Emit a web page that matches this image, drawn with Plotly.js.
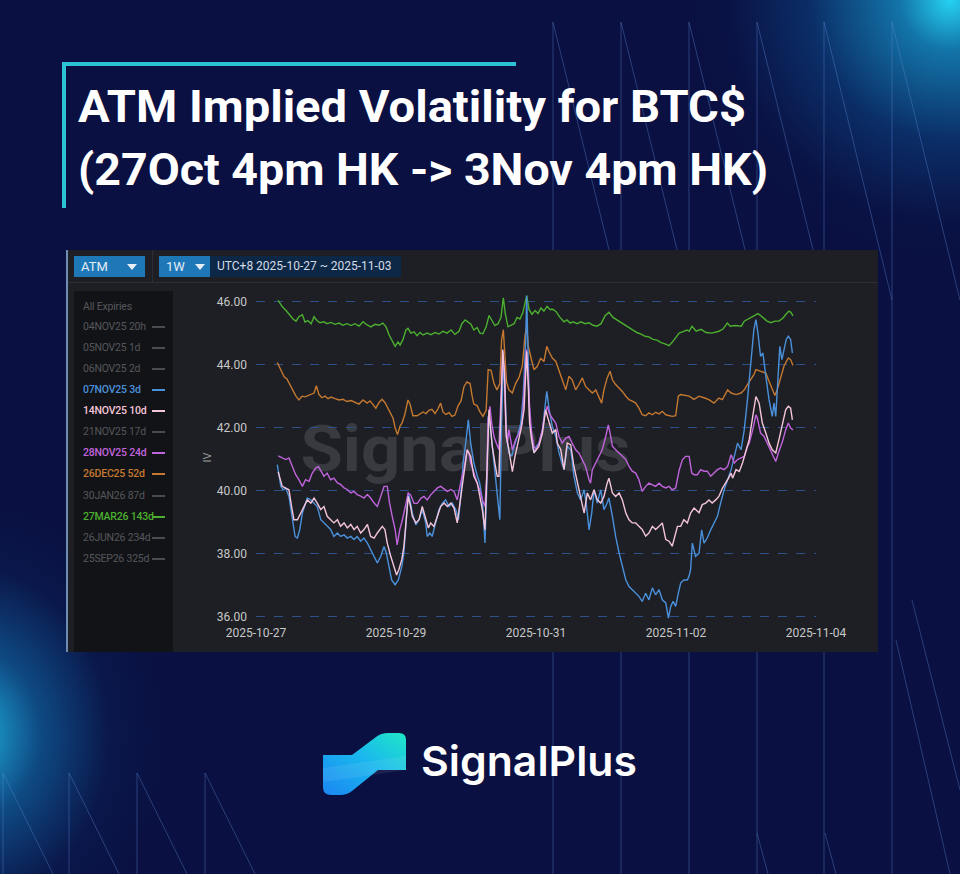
<!DOCTYPE html>
<html>
<head>
<meta charset="utf-8">
<script src="https://cdn.plot.ly/plotly-3.0.1.min.js"></script>
<style>
html,body{margin:0;padding:0;background:#0a1041;}
#page{position:relative;width:960px;height:874px;overflow:hidden;
  background:
   radial-gradient(circle at 950px 0px, rgba(38,210,242,1) 0px, rgba(22,155,208,0.72) 50px, rgba(12,95,165,0.38) 140px, rgba(10,40,100,0.12) 220px, rgba(10,16,65,0) 270px),
   radial-gradient(ellipse 200px 240px at -30px 735px, rgba(32,188,232,0.95) 0%, rgba(18,122,186,0.55) 35%, rgba(10,52,112,0.2) 70%, rgba(10,16,65,0) 100%),
   #0a1041;
  font-family:Roboto,"DejaVu Sans",sans-serif;}
#deco{position:absolute;left:0;top:0;}
.abs{position:absolute;}
.tline{position:absolute;left:78px;color:#ffffff;font-family:Roboto,"DejaVu Sans",sans-serif;font-weight:700;font-size:45px;line-height:44px;white-space:nowrap;transform-origin:0 0;}
#panel{position:absolute;left:66px;top:250px;width:812px;height:402px;background:#1d1f24;box-sizing:border-box;border-left:2px solid #6e8db3;}
.box{position:absolute;top:6px;height:21px;line-height:21px;font-size:12px;color:#e4ecf4;padding-left:7px;box-sizing:border-box;white-space:nowrap;}
.tri{position:absolute;top:8px;width:0;height:0;border-left:5px solid transparent;border-right:5px solid transparent;border-top:6px solid #e8eef5;}
#legend{position:absolute;left:6px;top:41px;width:99px;height:361px;background:#121316;}
.li{position:absolute;left:9px;font-size:10.5px;line-height:14px;white-space:nowrap;letter-spacing:-0.2px;}
.lm{position:absolute;left:78px;width:13px;height:2px;}
#wm{position:absolute;left:244px;top:168px;font-size:64px;line-height:64px;font-weight:700;color:#383a40;white-space:nowrap;font-family:Roboto,"DejaVu Sans",sans-serif;}
#chart{position:absolute;left:0;top:0;width:960px;height:874px;}
#brand{position:absolute;left:421px;top:741px;font-family:Inter,Roboto,sans-serif;font-weight:600;font-size:41px;line-height:41px;color:#ffffff;white-space:nowrap;transform-origin:0 0;}
</style>
</head>
<body>
<div id="page">
<svg id="deco" width="960" height="874">
 <g stroke="rgba(95,140,215,0.38)" stroke-width="1" fill="none">
  <line x1="553" y1="22" x2="553" y2="874"/><line x1="553" y1="22" x2="612" y2="262"/>
  <line x1="621" y1="22" x2="621" y2="874"/><line x1="621" y1="22" x2="680" y2="262"/>
  <line x1="689" y1="22" x2="689" y2="874"/><line x1="689" y1="22" x2="748" y2="262"/>
  <line x1="757" y1="22" x2="757" y2="874"/><line x1="757" y1="22" x2="816" y2="262"/>
  <line x1="824" y1="22" x2="824" y2="874"/><line x1="824" y1="22" x2="892" y2="300"/>
  <line x1="892" y1="22" x2="892" y2="874"/><line x1="892" y1="22" x2="960" y2="300"/>
  <line x1="896" y1="640" x2="950" y2="874"/><line x1="912" y1="600" x2="960" y2="790"/>
  <line x1="757" y1="833" x2="768" y2="874"/><line x1="825" y1="833" x2="836" y2="874"/>
  <line x1="3" y1="773" x2="3" y2="874"/><line x1="3" y1="773" x2="53" y2="874"/>
  <line x1="69" y1="773" x2="69" y2="874"/><line x1="69" y1="773" x2="119" y2="874"/>
  <line x1="137" y1="773" x2="137" y2="874"/><line x1="137" y1="773" x2="187" y2="874"/>
  <line x1="205" y1="773" x2="205" y2="874"/><line x1="205" y1="773" x2="255" y2="874"/>
 </g>
</svg>
<div class="abs" style="left:62px;top:62px;width:454px;height:4px;background:#2cc4d4;"></div>
<div class="abs" style="left:62px;top:62px;width:4px;height:146px;background:#2cc4d4;"></div>
<div id="t1" class="tline" style="top:85px;">ATM Implied Volatility for BTC$</div>
<div id="t2" class="tline" style="top:148px;">(27Oct 4pm HK -&gt; 3Nov 4pm HK)</div>

<div id="panel">
 <div class="abs" style="left:0;top:32px;width:810px;height:1px;background:#2b2e35;"></div>
 <div class="abs" style="left:84px;top:0;width:1px;height:32px;background:#2b2e35;"></div>
 <div class="box" style="left:6px;width:71px;background:#1e78b8;font-size:13px;">ATM</div>
 <div class="tri" style="left:59px;top:14px;"></div>
 <div class="box" style="left:91px;width:51px;background:#1e78b8;font-size:13px;">1W</div>
 <div class="tri" style="left:127px;top:14px;"></div>
 <div class="box" style="left:142px;width:191px;background:#0d2747;color:#d5dce6;">UTC+8 2025-10-27 ~ 2025-11-03</div>
 <div id="legend"></div>
 <div id="wm">SignalPlus</div>
</div>

<div id="chart"></div>

<svg class="abs" style="left:0;top:0;" width="960" height="874">
 <defs>
  <linearGradient id="lg" x1="0" y1="1" x2="1" y2="0">
   <stop offset="0" stop-color="#1a86f2"/>
   <stop offset="0.55" stop-color="#1ab8ee"/>
   <stop offset="1" stop-color="#1fe6c6"/>
  </linearGradient>
 </defs>
 <path d="M323,755 L352,755 L376,737 Q381,733 388,733 L399,733 Q406,733 406,740 L406,770 L378,770 L352,791 Q347,795 340,795 L331,795 Q323,795 323,787 Z" fill="url(#lg)"/>
 <path d="M323,768 L406,756 L406,770 L323,782 Z" fill="rgba(255,255,255,0.08)"/>
</svg>
<div id="brand">SignalPlus</div>
</div>

<script>
// ---- data (hours from 2025-10-27 00:00, UTC+8; IV values) ----
const EXPIRY_LABELS = ["All Expiries","04NOV25 20h","05NOV25 1d","06NOV25 2d","07NOV25 3d","14NOV25 10d","21NOV25 17d","28NOV25 24d","26DEC25 52d","30JAN26 87d","27MAR26 143d","26JUN26 234d","25SEP26 325d"];
const X_TICKS = ["2025-10-27","2025-10-29","2025-10-31","2025-11-02","2025-11-04"];
const Y_TICKS = [36,38,40,42,44,46];

const H_27MAR26 = [7.6,8.9,10.3,11.3,12.7,13.7,14.7,15.9,16.8,17.8,18.9,19.9,20.9,21.9,23.3,24.3,25.7,27.1,28.5,29.8,31.2,32.6,33.9,35.3,36.7,38.1,39.4,40.8,42.2,43.5,44.6,45.6,46.6,47.7,48.7,49.4,50.4,51.4,52.1,53.1,54.2,55.2,56.2,57.3,58.6,60.0,61.4,62.7,64.1,65.5,66.9,68.2,69.6,70.6,71.7,72.7,73.7,74.7,75.8,76.8,77.8,78.9,79.9,80.9,81.9,83.0,84.0,84.8,85.5,86.4,87.4,88.5,89.5,90.5,91.5,92.8,93.6,94.6,95.7,96.7,97.7,98.7,99.8,100.8,101.8,102.9,104.2,105.6,106.6,107.7,108.7,110.1,111.4,112.8,114.2,115.5,116.9,118.3,119.7,121.0,122.4,123.8,125.1,126.5,127.9,129.3,130.6,132.0,133.4,134.7,136.1,137.5,138.9,140.2,141.6,142.6,143.7,145.1,146.4,147.8,148.5,149.5,150.9,152.6,154.3,156.3,158.7,160.1,161.6,162.6,164.3,166.4,167.4,168.8,169.8,171.1,172.1,173.1,174.2,175.2,176.6,177.9,179.3,180.7,181.7,182.7,183.4,184.1];
const IV_27MAR26 = [46.04,45.85,45.72,45.6,45.45,45.38,45.52,45.58,45.35,45.4,45.3,45.52,45.4,45.33,45.36,45.3,45.34,45.28,45.32,45.25,45.3,45.24,45.3,45.22,45.36,45.26,45.2,45.28,45.25,45.32,45.2,44.95,44.75,44.58,44.72,44.62,44.8,45.1,45.15,45.0,45.04,44.92,45.02,44.94,45.0,44.95,45.02,44.97,45.06,45.0,45.1,44.96,45.06,45.3,45.42,45.35,45.28,45.1,45.18,45.0,44.98,45.2,45.56,45.4,45.24,45.3,45.5,46.12,45.6,45.2,45.26,45.3,45.5,45.45,45.65,46.18,45.75,45.6,45.72,45.62,45.8,45.7,45.85,45.75,45.76,45.68,45.5,45.36,45.42,45.32,45.36,45.3,45.36,45.3,45.33,45.25,45.22,45.3,45.55,45.66,45.5,45.42,45.33,45.25,45.18,45.1,45.02,44.97,44.9,44.88,44.8,44.78,44.7,44.66,44.6,44.7,44.85,45.0,45.05,45.1,45.06,45.22,45.06,45.12,45.02,45.0,45.06,45.13,45.32,45.22,45.24,45.22,45.38,45.45,45.52,45.56,45.62,45.55,45.45,45.38,45.33,45.38,45.38,45.48,45.6,45.7,45.66,45.55];

const H_26DEC25 = [7.3,8.6,9.6,10.6,11.7,12.7,13.7,14.7,15.8,16.8,17.8,18.9,19.9,20.7,21.6,22.6,23.7,24.7,25.7,27.1,28.5,29.8,31.2,32.6,33.9,35.3,36.7,38.1,39.1,40.1,41.1,42.2,43.2,44.2,45.3,46.3,47.0,47.7,48.5,49.4,50.1,51.1,52.1,52.8,53.8,55.2,56.2,57.3,58.3,59.3,60.3,61.4,62.4,63.3,64.1,65.1,66.2,67.2,68.2,69.3,70.3,71.3,72.3,73.4,74.1,74.7,75.8,76.8,77.8,78.9,79.6,80.6,81.6,82.6,83.6,84.2,84.8,85.4,85.9,86.7,87.9,89.0,90.2,91.3,92.2,92.8,93.4,94.2,95.3,96.4,97.6,98.7,99.7,100.5,101.6,102.8,103.9,105.0,106.2,107.3,108.4,109.6,110.7,111.9,113.0,114.2,115.3,116.5,117.6,118.5,119.3,120.4,121.4,122.2,123.3,124.5,125.6,126.8,127.9,129.0,130.2,131.3,132.4,133.6,134.7,135.9,137.0,138.2,139.3,140.5,141.6,142.7,143.9,144.8,145.6,147.3,148.5,150.2,151.9,153.6,155.3,157.0,158.7,159.9,161.7,162.9,164.6,166.3,167.4,168.5,169.7,170.7,171.4,173.0,174.8,175.9,177.0,177.9,178.7,179.9,181.0,182.5,183.3,184.1];
const IV_26DEC25 = [44.07,43.79,43.62,43.55,43.35,43.15,43.0,42.88,43.0,42.98,43.02,43.04,43.1,43.33,43.05,42.95,43.0,42.92,42.97,42.92,42.88,42.9,42.83,42.86,42.8,42.75,42.88,42.78,42.85,42.72,42.62,42.8,42.9,42.8,42.6,42.4,42.3,42.0,41.78,42.05,42.15,42.45,42.88,42.75,42.38,42.38,42.45,42.5,42.45,42.55,42.58,42.45,42.6,42.78,42.5,42.42,42.48,42.36,42.4,42.7,42.85,43.3,43.45,43.4,43.0,42.75,42.7,42.5,42.36,42.55,43.84,43.82,43.4,43.2,43.4,44.78,45.11,44.3,43.45,43.2,43.1,43.4,43.6,43.95,44.9,45.22,44.56,44.25,43.84,43.94,44.2,44.1,44.58,44.4,44.21,44.1,43.84,43.52,43.2,43.63,43.52,43.2,43.37,43.58,43.31,43.2,43.1,43.2,42.94,42.78,43.2,43.58,43.79,43.52,43.37,43.26,43.15,43.0,42.89,42.84,42.78,42.62,42.41,42.38,42.47,42.41,42.49,42.44,42.52,42.41,42.38,42.36,42.38,43.0,43.05,43.02,43.0,42.9,43.0,42.95,42.89,42.78,42.94,42.89,43.2,43.1,43.05,43.1,43.2,43.37,43.52,43.68,43.84,43.79,43.73,43.47,43.2,43.02,43.2,43.63,43.95,44.21,44.16,43.97];

const H_28NOV25 = [7.6,9.0,10.2,11.3,12.4,13.6,14.7,15.9,17.0,18.2,19.3,20.5,21.4,22.2,23.3,24.4,25.6,26.7,27.9,29.0,30.2,31.3,32.5,33.6,34.7,35.9,37.0,38.2,39.3,40.5,41.6,42.8,43.9,45.0,45.8,46.7,47.7,48.4,49.3,50.2,51.3,52.2,53.0,54.2,55.3,56.5,57.6,58.7,59.9,61.0,62.2,63.3,64.5,65.6,66.8,67.9,69.0,69.8,70.5,71.3,71.9,72.4,73.0,73.6,74.4,75.3,76.1,76.7,77.6,78.5,79.1,79.6,80.2,80.8,81.6,82.4,83.3,84.1,84.6,85.2,85.6,86.2,86.7,87.3,87.9,89.0,90.2,91.3,92.2,92.7,93.3,93.8,94.5,95.3,96.1,97.0,98.2,99.1,99.9,100.5,101.6,102.8,103.9,105.0,106.2,107.3,108.4,109.6,110.7,111.9,113.0,114.2,114.7,115.3,116.5,117.6,118.7,119.9,120.8,121.4,122.2,123.3,124.5,125.6,126.8,127.9,129.0,130.2,131.3,132.4,133.6,134.7,135.9,137.0,138.2,139.3,140.5,141.6,142.7,143.9,145.1,146.2,147.3,148.5,149.4,150.2,151.3,152.5,153.6,154.7,155.9,157.0,158.2,159.3,160.5,161.7,162.9,164.0,165.1,166.3,167.4,168.5,169.1,170.3,171.4,171.9,173.0,174.2,175.3,176.5,177.6,178.2,179.1,180.5,181.6,182.5,183.3,184.1];
const IV_28NOV25 = [41.11,41.04,40.99,41.04,40.78,40.51,40.35,40.14,40.35,40.3,40.56,40.72,40.77,40.62,40.46,40.56,40.35,40.4,40.25,40.2,40.09,40.04,39.93,39.98,39.88,39.83,39.77,39.88,39.77,39.61,39.5,39.83,40.14,40.14,39.61,39.19,38.77,38.28,38.77,39.08,39.61,39.93,39.87,39.6,39.6,39.76,39.82,39.71,39.87,39.98,40.09,40.14,40.04,39.98,40.04,39.98,39.71,40.14,40.4,40.66,41.09,41.3,41.2,40.88,40.67,40.35,40.14,40.04,39.71,39.5,40.46,42.25,42.68,42.15,41.72,41.51,41.3,43.2,44.42,43.73,42.15,41.51,41.94,41.62,41.3,41.62,41.83,42.15,43.52,44.48,43.63,42.68,41.83,41.41,41.3,41.51,41.94,42.47,42.68,42.47,42.3,42.14,41.72,41.51,41.67,41.72,41.51,41.3,41.2,40.99,40.77,40.35,40.24,40.66,40.88,41.09,41.3,41.72,42.09,41.83,41.41,41.3,41.2,41.09,40.99,40.77,40.62,40.56,40.35,39.98,40.14,40.24,40.19,40.14,40.24,40.14,40.09,40.14,40.03,40.09,40.66,40.98,41.09,41.09,40.56,40.51,40.51,40.67,40.62,40.62,40.46,40.56,40.67,40.72,40.67,40.77,41.14,40.88,40.99,41.04,41.09,41.41,41.51,41.93,42.41,42.3,41.83,41.72,41.51,41.3,41.04,40.93,41.2,41.56,41.93,42.15,41.99,41.93];

const H_14NOV25 = [7.6,8.5,9.0,10.2,11.3,12.2,13.0,14.2,15.3,16.5,17.6,18.8,19.9,21.0,22.2,23.3,24.4,25.6,26.7,27.9,29.0,30.2,31.3,32.5,33.6,34.7,35.9,37.0,38.2,39.3,40.5,41.6,43.3,44.2,45.0,46.2,47.3,48.2,49.0,50.0,50.7,51.5,52.2,53.0,53.6,54.8,55.9,57.0,58.2,59.1,59.9,61.0,62.2,63.3,64.5,65.6,66.8,67.9,69.0,69.8,70.7,71.7,72.4,73.6,74.7,75.9,76.7,77.6,78.5,79.3,79.9,80.5,81.0,81.9,82.7,83.3,83.9,84.6,85.2,85.8,86.5,87.3,87.9,88.8,89.6,90.8,91.9,92.5,92.8,93.4,93.8,94.5,95.3,96.1,97.0,98.2,99.3,99.9,100.5,101.6,102.8,103.3,104.5,105.6,106.7,107.9,109.0,110.2,111.3,112.5,113.6,114.7,115.9,117.0,118.2,119.3,120.4,121.0,122.2,123.3,124.5,125.6,126.8,127.9,129.0,130.2,131.3,132.4,133.6,134.7,135.9,137.0,138.2,139.3,140.5,141.6,142.7,143.7,144.5,145.6,146.7,147.9,149.0,150.2,151.9,153.0,154.2,155.3,156.4,157.6,158.7,159.9,161.1,162.0,162.9,163.4,164.6,165.7,166.8,168.0,169.1,170.3,171.4,172.5,173.6,174.8,175.9,177.0,178.2,179.3,180.5,181.6,182.5,183.3,183.9];
const IV_14NOV25 = [40.6,40.29,40.14,40.08,40.03,39.5,39.08,39.08,39.29,39.5,39.71,39.61,39.77,39.61,39.4,39.5,39.19,39.08,38.98,39.08,38.87,38.98,38.82,38.93,38.77,38.87,38.66,38.77,38.93,38.55,38.5,38.66,38.87,38.77,38.34,37.92,37.6,37.33,37.5,37.82,38.23,39.19,39.82,39.5,39.19,38.98,39.08,39.5,39.08,38.82,38.98,38.87,39.19,39.5,39.61,39.5,39.61,39.45,38.98,39.5,40.24,40.88,41.3,41.09,40.46,40.24,39.82,39.4,38.76,40.88,42.57,41.93,41.41,40.88,40.46,40.46,42.15,44.48,43.73,41.72,41.41,40.88,40.61,41.09,41.41,41.93,42.57,44.15,44.42,43.2,42.15,41.62,41.2,41.3,41.41,41.83,42.57,42.36,42.15,41.83,41.94,41.51,41.3,40.67,41.51,41.46,40.77,40.24,39.82,39.29,39.93,39.71,40.03,39.71,39.61,39.82,40.24,40.4,39.93,39.82,39.93,39.71,39.29,39.08,38.98,38.98,38.87,38.77,38.56,38.66,38.87,38.77,38.87,38.98,38.45,38.4,38.24,38.55,38.87,38.87,39.08,38.98,39.29,39.45,39.3,39.56,39.61,39.71,39.61,39.71,39.82,40.08,40.24,40.4,40.56,40.4,40.67,40.61,40.88,41.3,41.62,42.36,42.99,42.78,42.15,41.83,41.51,41.3,41.2,41.62,42.15,42.57,42.68,42.62,42.25];

const H_07NOV25 = [7.3,8.5,9.3,10.2,11.3,12.4,13.4,14.2,15.0,15.9,17.0,17.6,18.8,19.9,21.0,22.2,23.3,24.4,25.6,26.7,27.9,29.0,30.2,31.3,32.5,33.6,34.7,35.9,37.0,38.2,39.3,40.5,41.6,42.8,43.9,44.7,45.6,46.5,47.7,48.8,50.0,50.7,51.5,52.2,53.0,53.6,54.8,55.9,57.0,58.2,58.7,59.6,60.4,61.6,62.7,63.9,65.0,66.2,67.3,68.5,69.4,70.2,71.0,71.9,72.8,73.6,74.7,75.9,76.7,77.6,78.5,79.1,79.6,80.2,81.0,81.9,82.7,83.6,84.2,84.8,85.4,85.9,86.7,87.7,88.5,89.6,90.8,91.6,92.5,92.8,93.3,93.8,94.5,95.3,96.1,97.0,98.2,99.1,99.7,100.5,101.6,102.8,103.9,105.6,106.7,107.9,109.0,110.2,111.3,112.5,113.2,114.2,115.1,115.9,117.0,118.2,119.3,120.4,121.0,122.2,123.3,124.5,125.6,126.8,127.9,129.0,130.2,131.3,132.4,133.6,134.7,135.9,137.0,138.2,139.3,140.5,141.4,142.2,143.0,143.9,144.8,145.6,146.7,147.9,148.5,149.0,149.6,150.7,151.9,152.8,153.6,154.7,155.9,157.0,158.2,159.3,160.5,161.7,162.9,164.0,165.1,166.3,167.4,168.5,169.7,170.7,171.4,172.1,173.0,173.8,174.8,175.9,177.0,177.6,178.2,178.7,179.6,180.3,181.0,181.8,182.5,183.3,183.9];
const IV_07NOV25 = [40.83,40.14,40.03,40.08,39.82,39.08,38.55,38.5,38.77,39.29,39.61,39.77,39.71,39.61,39.5,39.08,38.98,38.87,38.77,38.55,38.66,38.55,38.6,38.5,38.55,38.45,38.55,38.4,38.5,38.34,38.13,37.92,37.71,37.92,38.23,38.02,37.6,37.17,37.02,37.17,37.6,38.02,39.08,39.93,39.61,39.29,38.92,39.08,39.4,38.98,38.55,38.66,38.55,38.98,39.4,39.61,39.71,39.5,39.61,39.4,39.08,39.82,40.88,41.51,42.25,41.51,40.88,40.46,40.24,39.71,38.34,40.03,42.36,42.15,41.41,40.67,39.82,39.08,42.15,44.05,43.2,41.72,41.2,41.09,41.41,41.72,42.15,43.0,44.8,46.19,44.26,42.36,41.72,41.2,41.41,41.51,41.93,42.78,43.15,42.57,42.04,41.72,41.2,40.67,41.41,41.3,40.46,39.93,39.71,40.03,39.61,38.76,39.29,40.03,39.61,40.03,39.4,39.61,39.77,39.19,38.55,38.02,37.6,37.17,36.96,36.86,36.75,36.65,36.49,36.75,36.54,36.92,36.7,36.86,36.54,36.44,35.96,36.33,36.49,36.33,36.75,37.07,37.17,37.17,37.3,37.49,38.34,37.92,38.02,38.76,38.34,38.5,38.76,38.97,39.19,39.61,40.03,40.35,40.67,41.09,41.51,41.3,41.93,42.89,44.26,45.11,45.43,45.0,44.26,44.37,43.63,42.89,42.36,42.78,42.36,43.2,44.58,44.16,44.48,44.8,44.9,44.8,44.37];

const SERIES = [
  {name:"27MAR26 143d", h:H_27MAR26, v:IV_27MAR26, color:"#4caf2f"},
  {name:"26DEC25 52d",  h:H_26DEC25, v:IV_26DEC25, color:"#c47830"},
  {name:"07NOV25 3d",   h:H_07NOV25, v:IV_07NOV25, color:"#4a90da"},
  {name:"28NOV25 24d",  h:H_28NOV25, v:IV_28NOV25, color:"#c064dc"},
  {name:"14NOV25 10d",  h:H_14NOV25, v:IV_14NOV25, color:"#f4c5da"}
];
const LEGEND_COLORS = {"07NOV25 3d":"#4a90da","14NOV25 10d":"#f4c5da","28NOV25 24d":"#c064dc","26DEC25 52d":"#c47830","27MAR26 143d":"#4caf2f"};

function hoursToDate(h){
  const ms = Date.UTC(2025,9,27) + Math.round(h*3600000);
  return new Date(ms).toISOString().slice(0,19).replace('T',' ');
}

// ---- legend panel (HTML) ----
const leg = document.getElementById('legend');
EXPIRY_LABELS.forEach((lab,i)=>{
  const cy = (i===0 ? 16 : 35.7 + (i-1)*21.1);
  const col = LEGEND_COLORS[lab] || '#55575c';
  const t = document.createElement('div');
  t.className='li'; t.style.top=(cy-7)+'px'; t.style.color=col; t.textContent=lab;
  if(LEGEND_COLORS[lab]) t.style.fontWeight='500';
  leg.appendChild(t);
  if(i>0){
    const m=document.createElement('div'); m.className='lm'; m.style.top=(cy-1)+'px';
    m.style.background = LEGEND_COLORS[lab] || '#4a4c51';
    leg.appendChild(m);
  }
});

// ---- chart ----
const PL=256, PR=816, PT=289, PB=620;
const traces = SERIES.map(s=>{
  const n=Math.min(s.h.length,s.v.length);
  return {type:'scatter',mode:'lines',name:s.name,
    x:s.h.slice(0,n).map(hoursToDate), y:s.v.slice(0,n),
    line:{color:s.color,width:1.4},hoverinfo:'skip'};
});
const layout = {
  width:960,height:874,
  margin:{l:PL,r:960-PR,t:PT,b:874-PB,pad:0},
  paper_bgcolor:'rgba(0,0,0,0)',plot_bgcolor:'rgba(0,0,0,0)',
  showlegend:false,
  font:{family:'Roboto, DejaVu Sans, sans-serif',color:'#c8c8c8',size:12},
  xaxis:{type:'date',range:['2025-10-27 00:00','2025-11-04 00:00'],
    tickmode:'array',tickvals:X_TICKS,ticktext:X_TICKS,
    showgrid:false,zeroline:false,showline:false,ticks:'',
    tickfont:{size:12,color:'#c8c8c8'},ticklabelstandoff:4},
  yaxis:{range:[35.9,46.4],tickmode:'array',tickvals:Y_TICKS,ticktext:Y_TICKS.map(v=>v.toFixed(2)),
    showgrid:true,gridcolor:'#2d5088',griddash:'dash',gridwidth:1,
    zeroline:false,showline:false,ticks:'',
    tickfont:{size:12,color:'#c8c8c8'},ticklabelstandoff:8},
  annotations:[{text:'IV',xref:'paper',yref:'paper',x:(198-PL)/(PR-PL),y:(PB-458)/(PB-PT),
    showarrow:false,textangle:-90,font:{size:11,color:'#9c9c9c'}}]
};
Plotly.newPlot('chart',traces,layout,{staticPlot:true,displayModeBar:false});

// ---- fit text widths ----
function fitX(id,target){
  const el=document.getElementById(id);
  el.style.transform='none';
  const w=el.getBoundingClientRect().width;
  if(w>0) el.style.transform='scaleX('+(target/w)+')';
}
function fitAll(){ fitX('t1',668); fitX('t2',690); fitX('wm',330); fitX('brand',216); }
fitAll();
if(document.fonts && document.fonts.ready) document.fonts.ready.then(fitAll);
</script>
</body>
</html>
